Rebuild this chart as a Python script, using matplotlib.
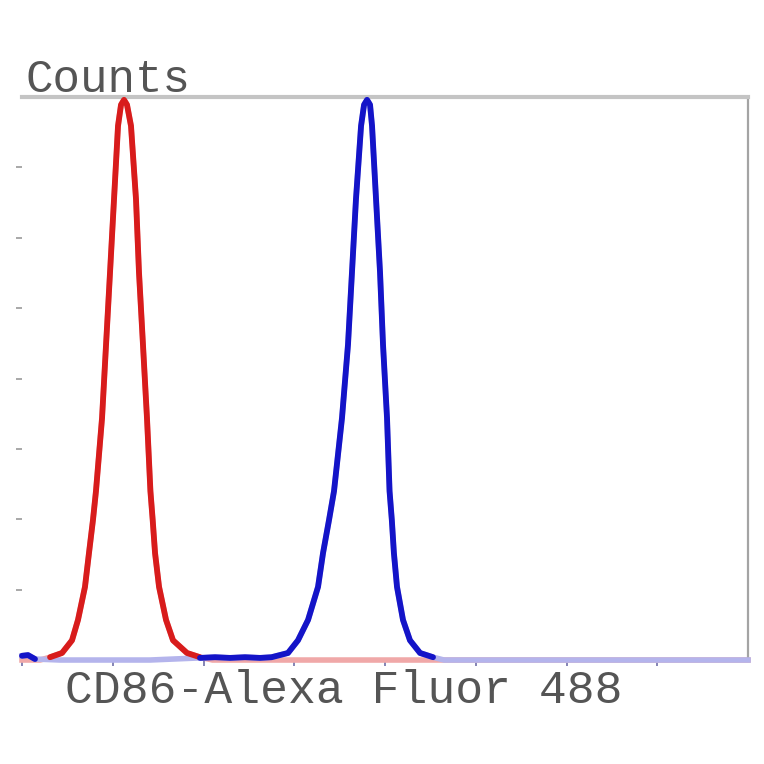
import matplotlib
matplotlib.use('Agg')
import matplotlib.pyplot as plt
import numpy as np

# isotype control (red)
red_x = [0, 0.2, 0.309, 0.441, 0.551, 0.617, 0.694, 0.738, 0.782, 0.815, 0.882, 0.926,
         0.970, 1.014, 1.058, 1.091, 1.124, 1.157, 1.201, 1.256, 1.289, 1.333, 1.377,
         1.415, 1.44, 1.466, 1.510, 1.587, 1.664, 1.818, 1.961, 2.1, 8.0]
red_y = [0, 0, 4, 10, 28, 57, 104, 152, 199, 240, 344, 448,
         551, 655, 759, 789, 796, 789, 759, 655, 551, 448, 344,
         240, 199, 152, 104, 57, 28, 10, 4, 0, 0]

# CD86 stained (blue)
blue_x = [0, 0.066, 0.143, 0.419, 1.410, 1.961, 2.127, 2.292, 2.457, 2.623, 2.75,
          2.931, 3.041, 3.152, 3.262, 3.317, 3.383, 3.438, 3.526, 3.592, 3.636, 3.680,
          3.736, 3.769, 3.802, 3.835, 3.857, 3.901, 3.945, 3.978, 4.022, 4.05, 4.075,
          4.098, 4.132, 4.198, 4.275, 4.386, 4.529, 4.65, 8.0]
blue_y = [6, 7, 1.4, 0, 0, 3, 4, 3, 4, 3, 4,
          10, 28, 57, 104, 152, 199, 240, 344, 448, 551, 655,
          759, 789, 796, 789, 759, 655, 551, 448, 344, 240, 199,
          152, 104, 57, 28, 10, 4, 0, 0]

red_x, red_y = np.array(red_x), np.array(red_y, dtype=float)
blue_x, blue_y = np.array(blue_x), np.array(blue_y, dtype=float)

fig = plt.figure(figsize=(7.64, 7.64), dpi=100)
ax = fig.add_axes([0.0288, 0.1361, 0.9503, 0.7369])

# faint baseline parts first, then the peaks on top
ax.plot(red_x, red_y, color='#f0a8a8', lw=4, clip_on=False, zorder=2)
ax.plot(blue_x, blue_y, color='#b4b4ec', lw=4, clip_on=False, zorder=3)
ax.plot(red_x, np.where(red_y > 0, red_y, np.nan), color='#d81c1c', lw=4.2,
        clip_on=False, zorder=4, solid_capstyle='round', solid_joinstyle='round')
ax.plot(blue_x, np.where(blue_y > 0, blue_y, np.nan), color='#1414c8', lw=4.2,
        clip_on=False, zorder=5, solid_capstyle='round', solid_joinstyle='round')

ax.set_xlim(0, 8)
ax.set_ylim(0, 800)
ax.set_xticks(np.arange(0, 8))
ax.set_yticks(np.arange(100, 800, 100))
ax.set_xticklabels([])
ax.set_yticklabels([])
ax.tick_params(axis='x', direction='out', length=4, width=1.2, color='#7070a8')
ax.tick_params(axis='y', direction='out', length=4, width=1.2, color='#9a9a9a')

ax.spines['left'].set_visible(False)
ax.spines['bottom'].set_visible(False)
ax.spines['top'].set_color('#c4c4c4')
ax.spines['top'].set_linewidth(3)
ax.spines['right'].set_color('#a4a4a4')
ax.spines['right'].set_linewidth(1.6)

fig.text(0.033, 0.8796, 'Counts', family='Liberation Mono', fontsize=33,
         color='#555555', va='baseline', ha='left')
fig.text(0.085, 0.080, 'CD86-Alexa Fluor 488', family='Liberation Mono', fontsize=33.4,
         color='#555555', va='baseline', ha='left')

fig.savefig('out.png', dpi=100)
